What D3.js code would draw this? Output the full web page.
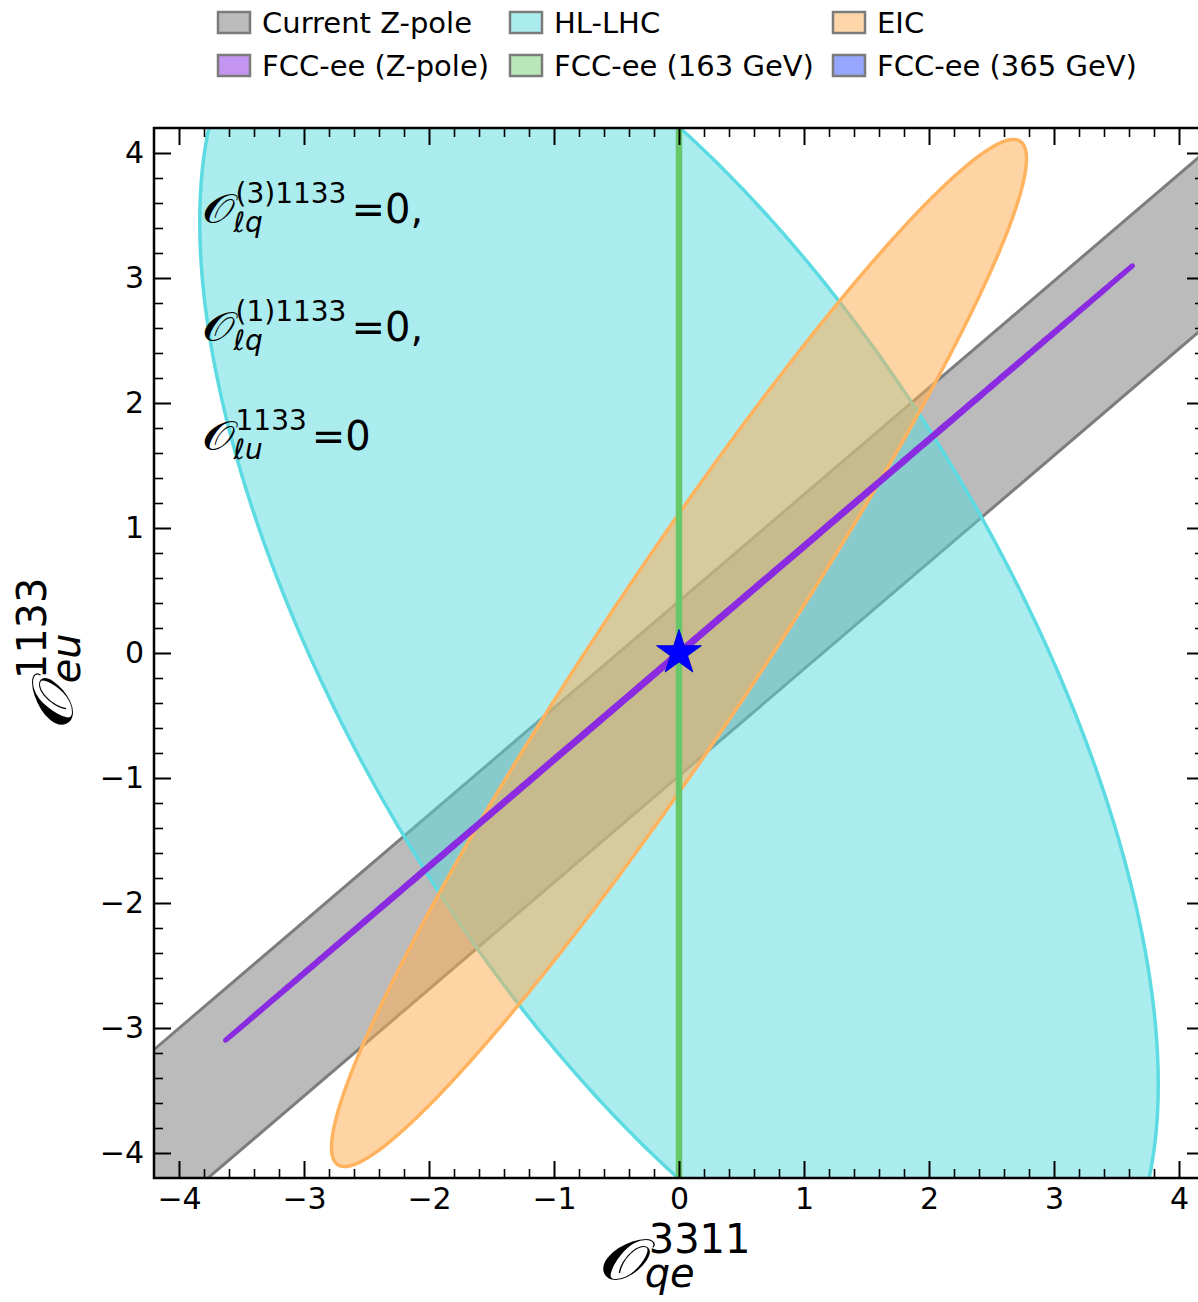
<!DOCTYPE html>
<html>
<head>
<meta charset="utf-8">
<script src="https://cdn.jsdelivr.net/npm/d3@7"></script>
<style>
  html, body { margin: 0; padding: 0; background: #ffffff; }
  svg { display: block; }
  text { font-family: "DejaVu Sans", sans-serif; fill: #000; }
</style>
</head>
<body>
<svg id="chart" width="1198" height="1302"></svg>
<script>
// ---- axis ticks ----
const xMajorTicks = [-4, -3, -2, -1, 0, 1, 2, 3, 4];
const yMajorTicks = [-4, -3, -2, -1, 0, 1, 2, 3, 4];
const axisDomain = [-4.2, 4.2];
const minorStep = 0.2;

// ---- current Z-pole constraint: band between two parallel lines ----
const bandSlope = 0.854;
const bandIntercepts = [0.414, -0.982];

// ---- projected constraints: ellipses (centre, semi-axes, orientation) ----
const ellipseNames = ["HL-LHC", "EIC", "FCC-ee (163 GeV)", "FCC-ee (Z-pole)", "FCC-ee (365 GeV)"];
const ellipseCenterX = [0, 0, 0, 0, 0];
const ellipseCenterY = [0, 0, 0, 0, 0];
const ellipseSemiMajor = [6.11, 4.92, 30, 4.77, 0.06];
const ellipseSemiMinor = [2.64, 0.63, 0.01, 0.008, 0.03];
const ellipseAngleDeg = [-59.7, 56.3, 90, 40.5, 40.5];

// ---- SM point ----
const smPointX = [0];
const smPointY = [0];

// ---- legend ----
const legendLabels = ["Current Z-pole", "HL-LHC", "EIC", "FCC-ee (Z-pole)", "FCC-ee (163 GeV)", "FCC-ee (365 GeV)"];

// ---- styles ----
const regionStyle = {
  "Current Z-pole":   { fill: "#777777", fillOpacity: 0.5, stroke: "#7d7d7d", strokeOpacity: 1, width: 3 },
  "HL-LHC":           { fill: "#58dae0", fillOpacity: 0.5, stroke: "#5cdce2", strokeOpacity: 1, width: 3.5 },
  "EIC":              { fill: "#ffae55", fillOpacity: 0.53, stroke: "#ffb35e", strokeOpacity: 1, width: 3.5 },
  "FCC-ee (Z-pole)":  { fill: "#8a2be2", fillOpacity: 0.5, stroke: "#8a2be2", strokeOpacity: 1, width: 5 },
  "FCC-ee (163 GeV)": { fill: "#73cf73", fillOpacity: 0.5, stroke: "#68c768", strokeOpacity: 1, width: 4 },
  "FCC-ee (365 GeV)": { fill: "#2d4dfb", fillOpacity: 0.5, stroke: "#2d4dfb", strokeOpacity: 1, width: 2 }
};
const legendFillOpacity = 0.5;
const legendEdge = "#7b7b7b";

const plot = { left: 154, top: 128, right: 1204, bottom: 1178 };

const svg = d3.select("#chart");
const x = d3.scaleLinear().domain(axisDomain).range([plot.left, plot.right]);
const y = d3.scaleLinear().domain(axisDomain).range([plot.bottom, plot.top]);

svg.append("defs").append("clipPath").attr("id", "plotClip")
  .append("rect")
  .attr("x", plot.left).attr("y", plot.top)
  .attr("width", plot.right - plot.left).attr("height", plot.bottom - plot.top);

const area = svg.append("g").attr("clip-path", "url(#plotClip)");

function styled(sel, st) {
  return sel.attr("fill", st.fill).attr("fill-opacity", st.fillOpacity)
    .attr("stroke", st.stroke).attr("stroke-opacity", st.strokeOpacity)
    .attr("stroke-width", st.width).attr("stroke-linejoin", "round");
}

const line = d3.line().x(d => x(d[0])).y(d => y(d[1]));

// band
{
  const xs = [-10, 10];
  const [hi, lo] = bandIntercepts;
  const st = regionStyle["Current Z-pole"];
  const poly = [
    [xs[0], hi + bandSlope * xs[0]], [xs[1], hi + bandSlope * xs[1]],
    [xs[1], lo + bandSlope * xs[1]], [xs[0], lo + bandSlope * xs[0]]
  ];
  area.append("path").attr("d", line(poly) + "Z")
    .attr("fill", st.fill).attr("fill-opacity", st.fillOpacity).attr("stroke", "none");
  bandIntercepts.forEach(b => {
    area.append("path").attr("d", line(xs.map(v => [v, b + bandSlope * v])))
      .attr("fill", "none").attr("stroke", st.stroke).attr("stroke-opacity", st.strokeOpacity)
      .attr("stroke-width", st.width);
  });
}

// ellipses
function ellipseOutline(i) {
  const th = ellipseAngleDeg[i] * Math.PI / 180;
  const a = ellipseSemiMajor[i], b = ellipseSemiMinor[i];
  const pts = [];
  for (let k = 0; k <= 720; k++) {
    const t = (k / 720) * 2 * Math.PI;
    const u = a * Math.cos(t), v = b * Math.sin(t);
    pts.push([ellipseCenterX[i] + u * Math.cos(th) - v * Math.sin(th),
              ellipseCenterY[i] + u * Math.sin(th) + v * Math.cos(th)]);
  }
  return line(pts) + "Z";
}
ellipseNames.forEach((name, i) => {
  styled(area.append("path").attr("d", ellipseOutline(i)), regionStyle[name]);
});

// SM point
area.selectAll("path.sm").data(smPointX.map((v, i) => [v, smPointY[i]]))
  .join("path").attr("class", "sm")
  .attr("d", d3.symbol(d3.symbolStar).size(620))
  .attr("transform", d => `translate(${x(d[0])},${y(d[1])})`)
  .attr("fill", "#0000ff").attr("stroke", "#0000dd").attr("stroke-width", 1);

// ---- axes (ticks inside on all four sides) ----
const minorTicks = d3.range(Math.round((axisDomain[1] - axisDomain[0]) / minorStep) + 1)
  .map(k => +(axisDomain[0] + k * minorStep).toFixed(2))
  .filter(v => !xMajorTicks.includes(v) && v > axisDomain[0] && v < axisDomain[1]);
const fmt = d => d3.format("d")(d).replace("-", "\u2212");

function axisGroup(axisFn, scale, translate, majors, labels) {
  const gMin = svg.append("g").attr("transform", translate)
    .call(axisFn(scale).tickValues(minorTicks).tickSize(-9).tickSizeOuter(0).tickFormat(""));
  const gMaj = svg.append("g").attr("transform", translate)
    .call(axisFn(scale).tickValues(majors).tickSize(-17).tickSizeOuter(0)
      .tickPadding(labels ? 10 : 0).tickFormat(labels ? fmt : ""));
  [gMin, gMaj].forEach(g => {
    g.select(".domain").remove();
    g.selectAll(".tick line").attr("stroke", "#000");
  });
  gMin.selectAll(".tick line").attr("stroke-width", 1.6);
  gMaj.selectAll(".tick line").attr("stroke-width", 2);
  gMaj.selectAll("text").attr("font-size", 30).attr("font-family", "DejaVu Sans").attr("fill", "#000");
  return gMaj;
}
axisGroup(d3.axisBottom, x, `translate(0,${plot.bottom})`, xMajorTicks, true);
axisGroup(d3.axisTop, x, `translate(0,${plot.top})`, xMajorTicks, false);
axisGroup(d3.axisLeft, y, `translate(${plot.left},0)`, yMajorTicks, true);
axisGroup(d3.axisRight, y, `translate(${plot.right},0)`, yMajorTicks, false);

svg.append("rect")
  .attr("x", plot.left).attr("y", plot.top)
  .attr("width", plot.right - plot.left).attr("height", plot.bottom - plot.top)
  .attr("fill", "none").attr("stroke", "#000").attr("stroke-width", 2.5);

// ---- math-style labels: script O with stacked super/subscript ----
function mathLabel(parent, o) {
  const g = parent.append("g");
  const base = g.append("text").attr("x", 0).attr("y", 0)
    .attr("font-size", o.size).attr("font-family", "DejaVu Serif, DejaVu Sans, serif")
    .attr("transform", `scale(${o.stretch},1)`)
    .text("\u{1D4AA}");
  const bw = base.node().getComputedTextLength() * o.stretch;
  const sup = g.append("text").attr("x", bw + o.supGap).attr("y", -o.supShift)
    .attr("font-size", o.subSize).text(o.sup);
  const sub = g.append("text").attr("x", bw + o.subGap).attr("y", o.subShift)
    .attr("font-size", o.subSize).attr("font-style", "italic").text(o.sub);
  const sw = Math.max(sup.node().getComputedTextLength() + o.supGap,
                      sub.node().getComputedTextLength() + o.subGap);
  let total = bw + sw;
  if (o.tail) {
    const t = g.append("text").attr("x", bw + sw + o.tailGap).attr("y", 0)
      .attr("font-size", o.size).text(o.tail);
    total += o.tailGap + t.node().getComputedTextLength();
  }
  return { g, width: total };
}

// constraint annotations
const notes = [
  { sup: "(3)1133", sub: "\u2113q", tail: "=0,", baseline: 223 },
  { sup: "(1)1133", sub: "\u2113q", tail: "=0,", baseline: 341 },
  { sup: "1133", sub: "\u2113u", tail: "=0", baseline: 450 }
];
notes.forEach(n => {
  const m = mathLabel(svg, { size: 40, subSize: 28, stretch: 1.3, supShift: 20, subShift: 9,
    supGap: 1, subGap: -1, tailGap: 5, sup: n.sup, sub: n.sub, tail: n.tail });
  m.g.attr("transform", `translate(202,${n.baseline})`);
});

// axis titles
{
  const m = mathLabel(svg, { size: 56, subSize: 40, stretch: 1.45, supShift: 26, subShift: 8,
    supGap: -2, subGap: -6, sup: "3311", sub: "qe" });
  m.g.attr("transform", `translate(${(plot.left + plot.right) / 2 - m.width / 2 - 4},1279)`);
}
{
  const m = mathLabel(svg, { size: 56, subSize: 40, stretch: 1.45, supShift: 26, subShift: 8,
    supGap: -2, subGap: -6, sup: "1133", sub: "eu" });
  m.g.attr("transform", `translate(72,${(plot.top + plot.bottom) / 2 + m.width / 2}) rotate(-90)`);
}

// ---- legend ----
const legendColX = [218, 510, 833];
const legendRowY = [12, 55];
const lg = svg.append("g");
legendLabels.forEach((lab, i) => {
  const col = i % 3, row = Math.floor(i / 3);
  lg.append("rect")
    .attr("x", legendColX[col]).attr("y", legendRowY[row])
    .attr("width", 32).attr("height", 21)
    .attr("fill", "#fff").attr("stroke", "none");
  lg.append("rect")
    .attr("x", legendColX[col]).attr("y", legendRowY[row])
    .attr("width", 32).attr("height", 21)
    .attr("fill", regionStyle[lab].fill).attr("fill-opacity", legendFillOpacity)
    .attr("stroke", legendEdge).attr("stroke-width", 2.5);
  lg.append("text")
    .attr("x", legendColX[col] + 44).attr("y", legendRowY[row] + 21)
    .attr("font-size", 29).text(lab);
});
</script>
</body>
</html>
